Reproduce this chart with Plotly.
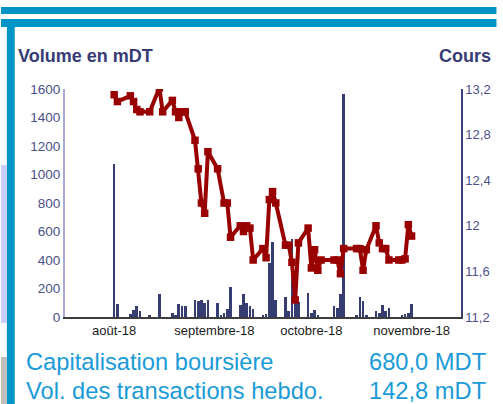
import plotly.graph_objects as go

# ---------------- data ----------------
bar_dates = ["2018-08-01", "2018-08-02", "2018-08-06", "2018-08-07", "2018-08-08", "2018-08-09",
             "2018-08-12", "2018-08-15", "2018-08-19", "2018-08-20", "2018-08-21", "2018-08-22",
             "2018-08-23", "2018-08-26", "2018-08-27", "2018-08-28", "2018-08-29", "2018-08-30",
             "2018-09-02", "2018-09-03", "2018-09-04", "2018-09-05", "2018-09-06", "2018-09-09",
             "2018-09-10", "2018-09-11", "2018-09-12", "2018-09-13", "2018-09-16", "2018-09-17",
             "2018-09-18", "2018-09-19", "2018-09-20", "2018-09-23", "2018-09-24", "2018-09-25",
             "2018-09-26", "2018-09-27", "2018-09-30", "2018-10-01", "2018-10-02", "2018-10-03",
             "2018-10-08", "2018-10-09", "2018-10-10", "2018-10-11", "2018-10-15", "2018-10-16",
             "2018-10-17", "2018-10-18", "2018-10-21", "2018-10-22", "2018-10-23", "2018-10-24",
             "2018-10-25", "2018-10-29", "2018-10-30", "2018-10-31", "2018-11-01"]
volumes = [1075, 88, 24, 47, 75, 40, 12, 160, 26, 14, 89, 75, 75, 122, 113, 117, 97, 117,
           97, 12, 28, 54, 210, 82, 160, 97, 75, 54, 14, 21, 378, 526, 117, 138, 41, 546,
           110, 108, 169, 31, 52, 17, 76, 62, 160, 1567, 12, 138, 113, 12, 41, 28, 82, 41,
           61, 12, 19, 26, 89]

line_dates = ["2018-08-01", "2018-08-02", "2018-08-06", "2018-08-07", "2018-08-08", "2018-08-09",
              "2018-08-12", "2018-08-15", "2018-08-16", "2018-08-19", "2018-08-20", "2018-08-21",
              "2018-08-22", "2018-08-23", "2018-08-26", "2018-08-27", "2018-08-28", "2018-08-29",
              "2018-08-30", "2018-09-02", "2018-09-04", "2018-09-05", "2018-09-06", "2018-09-09",
              "2018-09-10", "2018-09-11", "2018-09-12", "2018-09-13", "2018-09-16", "2018-09-17",
              "2018-09-18", "2018-09-19", "2018-09-20", "2018-09-23", "2018-09-24", "2018-09-25",
              "2018-09-26", "2018-09-27", "2018-09-30", "2018-10-01", "2018-10-02", "2018-10-03",
              "2018-10-04", "2018-10-08", "2018-10-09", "2018-10-10", "2018-10-11", "2018-10-15",
              "2018-10-16", "2018-10-17", "2018-10-18", "2018-10-21", "2018-10-22", "2018-10-23",
              "2018-10-24", "2018-10-25", "2018-10-28", "2018-10-29", "2018-10-30", "2018-10-31",
              "2018-11-01"]
prices = [13.15, 13.09, 13.14, 13.09, 13.02, 13.00, 13.00, 13.21, 13.00, 13.10, 13.00, 12.95,
          13.00, 13.00, 12.75, 12.50, 12.20, 12.11, 12.65, 12.50, 12.20, 12.20, 11.90, 12.00,
          11.95, 12.00, 11.98, 11.70, 11.80, 11.72, 12.23, 12.30, 12.20, 11.83, 11.83, 11.68,
          11.35, 11.85, 11.98, 11.63, 11.79, 11.61, 11.70, 11.70, 11.70, 11.58, 11.80, 11.80,
          11.80, 11.61, 11.79, 12.00, 11.85, 11.80, 11.80, 11.70, 11.70, 11.70, 11.71, 12.01,
          11.91]

month_ticks = ["2018-08-01", "2018-09-01", "2018-10-01", "2018-11-01"]
month_labels = ["août-18", "septembre-18", "octobre-18", "novembre-18"]
vol_ticks = [0, 200, 400, 600, 800, 1000, 1200, 1400, 1600]
price_ticks = [11.2, 11.6, 12.0, 12.4, 12.8, 13.2]
price_labels = ["11,2", "11,6", "12", "12,4", "12,8", "13,2"]

title_left = "Volume en mDT"
title_right = "Cours"
info_labels = ["Capitalisation boursière", "Vol. des transactions hebdo."]
info_values = ["680,0 MDT", "142,8 mDT"]

# ---------------- layout geometry ----------------
W, H = 503, 404
ML, MR, MT, MB = 65, 36, 89, 87
PW, PH = W - ML - MR, H - MT - MB


def px(x):
    return (x - ML) / PW


def py(y):
    return (H - MB - y) / PH


NAVY = "#353D73"
RED = "#990000"
BLUE = "#0095C6"
TXT = "#4B5089"
INFO = "#1A9BD7"
FONT = "Liberation Sans, Arial, sans-serif"

fig = go.Figure()
fig.add_trace(go.Bar(x=bar_dates, y=volumes, marker=dict(color=NAVY, line=dict(width=0)),
                     width=0.82 * 86400000, yaxis="y", showlegend=False))
fig.add_trace(go.Scatter(x=line_dates, y=prices, mode="lines+markers", yaxis="y2",
                         line=dict(color=RED, width=4),
                         marker=dict(symbol="square", size=7.5, color=RED),
                         showlegend=False))

shapes = [
    dict(type="rect", xref="paper", yref="paper", x0=px(0), x1=px(W), y0=py(7), y1=py(14),
         fillcolor=BLUE, line=dict(width=0), layer="above"),
    dict(type="rect", xref="paper", yref="paper", x0=px(0), x1=px(W), y0=py(19), y1=py(27),
         fillcolor=BLUE, line=dict(width=0), layer="above"),
    dict(type="rect", xref="paper", yref="paper", x0=px(6), x1=px(14), y0=py(19), y1=py(H),
         fillcolor=BLUE, line=dict(width=0), layer="above"),
    dict(type="rect", xref="paper", yref="paper", x0=px(0), x1=px(6), y0=py(165), y1=py(323),
         fillcolor="#C8CEF5", line=dict(width=0), layer="above"),
    dict(type="rect", xref="paper", yref="paper", x0=px(0), x1=px(6), y0=py(357), y1=py(H),
         fillcolor="#BFBFBF", line=dict(width=0), layer="above"),
]

annotations = [
    dict(text="<b>%s</b>" % title_left, x=px(15), y=py(56), xref="paper", yref="paper",
         xanchor="left", yanchor="middle", showarrow=False,
         font=dict(family=FONT, size=18, color="#363B74")),
    dict(text="<b>%s</b>" % title_right, x=px(499), y=py(56), xref="paper", yref="paper",
         xanchor="right", yanchor="middle", showarrow=False,
         font=dict(family=FONT, size=18, color="#363B74")),
]
for i, (lab, val) in enumerate(zip(info_labels, info_values)):
    yc = [362, 391][i]
    annotations.append(dict(text=lab, x=px(23), y=py(yc), xref="paper", yref="paper",
                            xanchor="left", yanchor="middle", showarrow=False,
                            font=dict(family=FONT, size=23.7, color=INFO)))
    annotations.append(dict(text=val, x=px(494), y=py(yc), xref="paper", yref="paper",
                            xanchor="right", yanchor="middle", showarrow=False,
                            font=dict(family=FONT, size=23.7, color=INFO)))

fig.update_layout(
    width=W, height=H,
    margin=dict(l=ML, r=MR, t=MT, b=MB, pad=0),
    paper_bgcolor="white", plot_bgcolor="white",
    bargap=0,
    xaxis=dict(type="date", range=["2018-07-16 19:00", "2018-11-16 07:00"],
               tickvals=month_ticks, ticktext=month_labels, ticks="",
               showgrid=False, zeroline=False, showline=True, linecolor="#3d3d3d", linewidth=2,
               tickfont=dict(family=FONT, size=13, color="#1a1a1a")),
    yaxis=dict(range=[0, 1600], tickvals=vol_ticks, ticks="", showgrid=False, zeroline=False,
               showline=True, linecolor="#A8A8D0", linewidth=2,
               tickfont=dict(family=FONT, size=13.5, color=TXT)),
    yaxis2=dict(range=[11.2, 13.2], tickvals=price_ticks, ticktext=price_labels, ticks="",
                overlaying="y", side="right", showgrid=False, zeroline=False,
                showline=True, linecolor="#3A4080", linewidth=1.5,
                tickfont=dict(family=FONT, size=13, color=TXT)),
    shapes=shapes,
    annotations=annotations,
)

fig.write_html("out.html", config={"displayModeBar": False},
               post_script="document.body.style.margin='0';document.body.style.overflow='hidden';")
